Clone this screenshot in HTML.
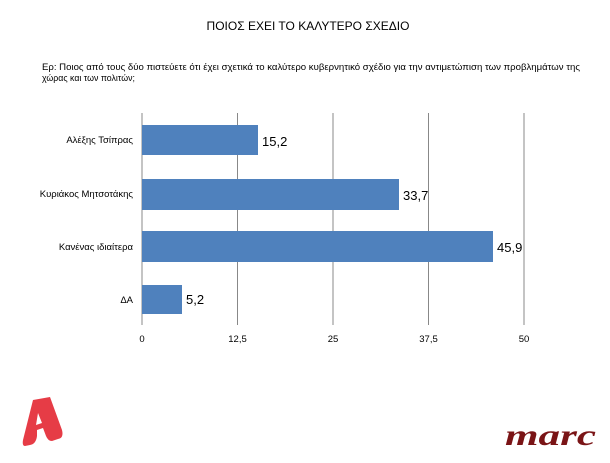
<!DOCTYPE html><html><head><meta charset="utf-8"><style>body{margin:0;background:#fff}</style></head><body>
<svg width="610" height="458" xmlns="http://www.w3.org/2000/svg" font-family="Liberation Sans, sans-serif">
<text x="308" y="30" font-size="12" text-anchor="middle">ΠΟΙΟΣ ΕΧΕΙ ΤΟ ΚΑΛΥΤΕΡΟ ΣΧΕΔΙΟ</text>
<text x="42" y="70" font-size="8.8" textLength="538" lengthAdjust="spacingAndGlyphs">Ερ: Ποιος από τους δύο πιστεύετε ότι έχει σχετικά το καλύτερο κυβερνητικό σχέδιο για την αντιμετώπιση των προβλημάτων της</text>
<text x="42" y="81" font-size="8.8">χώρας και των πολιτών;</text>
<g stroke="#888" stroke-width="1">
<line x1="237.5" y1="113" x2="237.5" y2="325"/><line x1="333" y1="113" x2="333" y2="325"/><line x1="428.5" y1="113" x2="428.5" y2="325"/><line x1="524" y1="113" x2="524" y2="325"/>
<line x1="142" y1="113" x2="142" y2="325"/></g>
<g fill="#4f81bd">
<rect x="142" y="125" width="116" height="30"/><rect x="142" y="179" width="257" height="31"/><rect x="142" y="231" width="351" height="31"/><rect x="142" y="285" width="40" height="29"/></g>
<g font-size="13"><text x="262" y="146">15,2</text><text x="403" y="200">33,7</text><text x="497" y="252">45,9</text><text x="186" y="304">5,2</text></g>
<g font-size="9.5" text-anchor="end"><text x="133" y="143">Αλέξης Τσίπρας</text><text x="133" y="197">Κυριάκος Μητσοτάκης</text><text x="133" y="250">Κανένας ιδιαίτερα</text><text x="133" y="303">ΔΑ</text></g>
<g font-size="9.5" text-anchor="middle"><text x="142" y="342">0</text><text x="237.5" y="342">12,5</text><text x="333" y="342">25</text><text x="428.5" y="342">37,5</text><text x="524" y="342">50</text></g>
<path d="M33 400 L50 397 L62 430 Q64 438 58 439 L52 441 Q48 441 46 436 L43 428 L37 430 L37 436 Q36 444 30 445 L25 446 Q22 446 23 440 Z M38 413 L36 425 L42 423 Z" fill="#e63c46"/>
<text x="505" y="445" font-size="30" textLength="91" lengthAdjust="spacingAndGlyphs" font-family="Liberation Serif, serif" font-style="italic" font-weight="bold" fill="#7a1416">marc</text>
</svg></body></html>
